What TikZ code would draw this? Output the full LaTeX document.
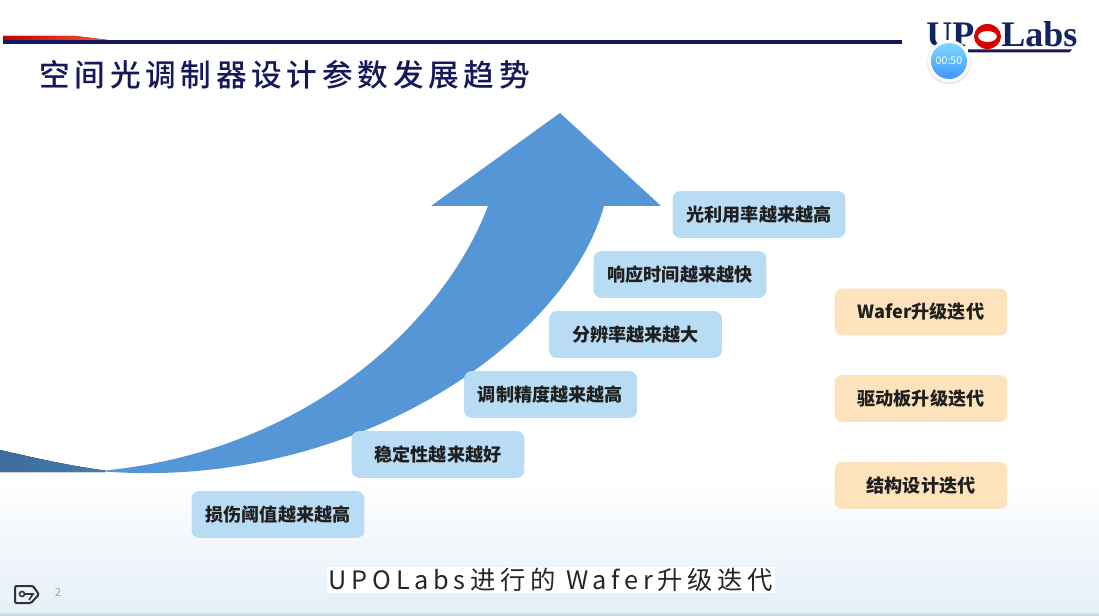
\documentclass[tikz,border=0pt]{standalone}
\usepackage{fontspec}
\setmainfont{Noto Sans CJK SC}
\newfontfamily\titlefont[LetterSpace=15.4]{Noto Sans CJK SC Medium}
\newfontfamily\subfont[LetterSpace=18.6]{Noto Sans CJK SC}
\newfontfamily\logofont{Liberation Serif}
\definecolor{navy}{HTML}{17175C}
\definecolor{arrowblue}{HTML}{5496D6}
\definecolor{boxblue}{HTML}{B8DCF4}
\definecolor{boxorange}{HTML}{FDE3BB}
\definecolor{logonavy}{HTML}{12245F}
\definecolor{bgblue}{HTML}{E8F0FA}
\definecolor{bandblue}{HTML}{C3D1E2}
\tikzset{
  x=0.75pt,y=-0.75pt,
  card/.style={rounded corners=5.5pt,minimum width=129.5pt,minimum height=35pt,inner sep=0pt,
    font=\fontsize{13.6pt}{16pt}\selectfont\bfseries,text=black!88},
  bluecard/.style={card,fill=boxblue},
  orangecard/.style={card,fill=boxorange},
}
\begin{document}
\begin{tikzpicture}
\useasboundingbox (0,0) rectangle (1099,616);
\fill[white] (0,0) rectangle (1099,616);
\fill[top color=white,bottom color=bgblue] (0,480) rectangle (1099,600);
\fill[bgblue] (0,600) rectangle (1099,611);
\fill[top color=bgblue,bottom color=bandblue] (0,611) rectangle (1099,616);
% top rule
\fill[left color=red!75!black,right color=orange!30!red!80!white] (3,36) -- (75,36) -- (108,40) -- (3,40) -- cycle;
\fill[navy] (3,40) rectangle (902,44.5);
% title
\node[anchor=west,inner sep=0pt,text=navy,font=\titlefont\fontsize{23pt}{28pt}\selectfont] (title) at (39,75) {空间光调制器设计参数发展趋势};
% big arrow
\fill[left color=black!28!arrowblue,right color=black!18!arrowblue] (0,450) .. controls (35,458) and (70,466) .. (105,470.5) -- (105,472) -- (0,472) -- cycle;
\fill[arrowblue] (105,470.5) .. controls (310,450) and (445,320) .. (488,206)
  -- (431,206) -- (560,113) -- (661,206) -- (604,206)
  .. controls (565,345) and (350,490) .. (105,471.5) -- cycle;
% logo
\node[anchor=base west,inner sep=0pt,text=logonavy,font=\logofont\fontsize{27pt}{30pt}\selectfont\bfseries] (logoup) at (926,47) {UP};
\fill[red!85!black,even odd rule] (987.5,36.5) ellipse [x radius=13.5,y radius=12.5] (987.5,36.5) ellipse [x radius=9.5,y radius=5.5];
\node[anchor=base west,inner sep=0pt,text=logonavy,font=\logofont\fontsize{27pt}{30pt}\selectfont\bfseries] (logolabs) at (1001,47) {Labs};
\fill[navy] (968,49.5) -- (1072,49.5) -- (1069,52.5) -- (968,52.5) -- cycle;
% timer
\fill[black!8] (949,62.5) circle [radius=22];
\fill[white] (949,61) circle [radius=21];
\shade[top color=blue!30!cyan!50!white,bottom color=blue!55!cyan!75!white] (949,61) circle [radius=18];
\node[text=white,inner sep=0pt,font=\fontsize{8pt}{9pt}\selectfont] (timer) at (949,61) {00:50};
% left cards
\node[bluecard] (c1) at (278,514.5) {损伤阈值越来越高};
\node[bluecard] (c2) at (438,454.5) {稳定性越来越好};
\node[bluecard] (c3) at (550.5,394.5) {调制精度越来越高};
\node[bluecard] (c4) at (635.5,334.5) {分辨率越来越大};
\node[bluecard] (c5) at (680,274.5) {响应时间越来越快};
\node[bluecard] (c6) at (759,214.5) {光利用率越来越高};
% right cards
\node[orangecard] (o1) at (921,312) {Wafer升级迭代};
\node[orangecard] (o2) at (921,398.5) {驱动板升级迭代};
\node[orangecard] (o3) at (921,485.5) {结构设计迭代};
% caption
\node[fill=white,inner xsep=1.5pt,inner ysep=1pt,text=black!85,font=\subfont\fontsize{19pt}{22pt}\selectfont] (caption) at (551,580) {UPOLabs进行的 Wafer升级迭代};
% footer
\draw[black!80,line width=1.5pt,line join=round,rounded corners=1pt] (24,586) -- (15,586) -- (15,603) -- (31,603) -- (39,594.5) -- (33,586) -- cycle;
\draw[black!80,line width=1.2pt] (22,594) circle [radius=2.5] (24.5,594) -- (33,594) -- (29,600);
\node[text=black!35,inner sep=0pt,font=\fontsize{8.5pt}{10pt}\selectfont] (pageno) at (58,592) {2};
\end{tikzpicture}
\end{document}
